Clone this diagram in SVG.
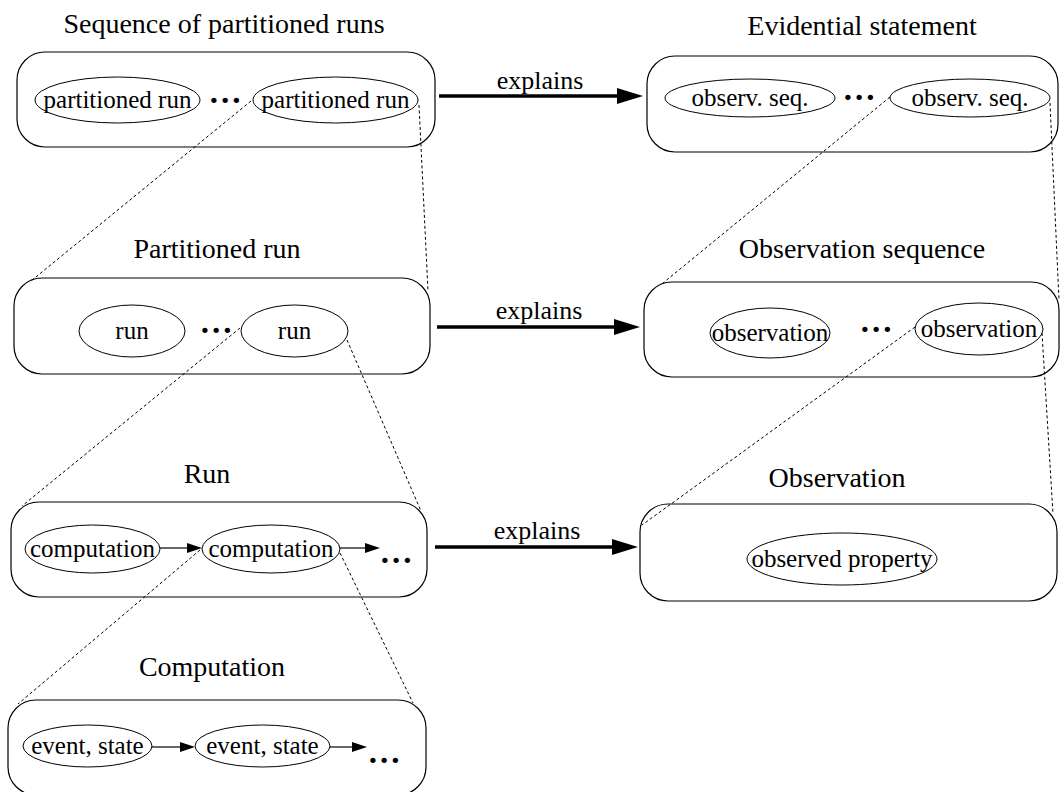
<svg xmlns="http://www.w3.org/2000/svg" width="1060" height="792" viewBox="0 0 1060 792">
<style>
  .box { fill: none; stroke: #000; stroke-width: 1.2; }
  .ell { fill: none; stroke: #000; stroke-width: 1; }
  .title { font-family: "Liberation Serif", "Times New Roman", serif; font-size: 28px; text-anchor: middle; fill: #000; }
  .lbl { font-family: "Liberation Serif", "Times New Roman", serif; font-size: 25px; text-anchor: middle; fill: #000; }
  .dots { font-family: "Liberation Serif", "Times New Roman", serif; font-size: 45px; text-anchor: middle; fill: #000; }
  .exp { font-family: "Liberation Serif", "Times New Roman", serif; font-size: 26px; text-anchor: middle; fill: #000; }
  .zoom { fill: none; stroke: #000; stroke-width: 1; stroke-dasharray: 3 2.5; }
  .big { fill: none; stroke: #000; stroke-width: 3.3; }
  .small { fill: none; stroke: #000; stroke-width: 1.2; }
</style>
<defs>
  <marker id="bigHead" markerUnits="userSpaceOnUse" markerWidth="26" markerHeight="16" refX="0" refY="8" orient="auto">
    <path d="M0,0 L26,8 L0,16 z" fill="#000"/>
  </marker>
  <marker id="smallHead" markerUnits="userSpaceOnUse" markerWidth="15" markerHeight="10" refX="0" refY="5" orient="auto">
    <path d="M0,0 L15,5 L0,10 z" fill="#000"/>
  </marker>
</defs>

<g id="seq-runs">
  <text class="title" x="224" y="33">Sequence of partitioned runs</text>
  <rect class="box" x="17" y="52" width="418" height="95" rx="28" ry="28"/>
  <ellipse class="ell" cx="117.5" cy="100" rx="82.5" ry="23"/>
  <text class="lbl" x="117.5" y="108">partitioned run</text>
  <text class="dots" x="225" y="102.5">...</text>
  <ellipse class="ell" cx="335.5" cy="100" rx="82.5" ry="23"/>
  <text class="lbl" x="335.5" y="108">partitioned run</text>
</g>

<g id="evidential">
  <text class="title" x="862" y="35">Evidential statement</text>
  <rect class="box" x="647" y="56" width="411" height="96" rx="28" ry="28"/>
  <ellipse class="ell" cx="750" cy="98" rx="85" ry="19"/>
  <text class="lbl" x="750" y="106">observ. seq.</text>
  <text class="dots" x="859" y="99.5">...</text>
  <ellipse class="ell" cx="970" cy="98" rx="80" ry="19"/>
  <text class="lbl" x="970" y="106">observ. seq.</text>
</g>

<g id="part-run">
  <text class="title" x="217" y="258">Partitioned run</text>
  <rect class="box" x="14" y="278" width="416" height="96" rx="28" ry="28"/>
  <ellipse class="ell" cx="132" cy="331" rx="53" ry="26"/>
  <text class="lbl" x="132" y="339">run</text>
  <text class="dots" x="216" y="332.5">...</text>
  <ellipse class="ell" cx="294.5" cy="331" rx="53.5" ry="26"/>
  <text class="lbl" x="294.5" y="339">run</text>
</g>

<g id="obs-seq">
  <text class="title" x="862" y="258">Observation sequence</text>
  <rect class="box" x="644" y="282" width="415" height="95" rx="28" ry="28"/>
  <ellipse class="ell" cx="770" cy="333" rx="60" ry="25"/>
  <text class="lbl" x="770" y="341">observation</text>
  <text class="dots" x="876" y="331.5">...</text>
  <ellipse class="ell" cx="979" cy="329" rx="64" ry="26"/>
  <text class="lbl" x="979" y="337">observation</text>
</g>

<g id="run">
  <text class="title" x="207" y="483">Run</text>
  <rect class="box" x="11" y="502" width="416" height="95" rx="28" ry="28"/>
  <ellipse class="ell" cx="92.5" cy="549" rx="67.5" ry="24"/>
  <text class="lbl" x="92.5" y="557">computation</text>
  <ellipse class="ell" cx="271" cy="549" rx="69" ry="24"/>
  <text class="lbl" x="271" y="557">computation</text>
  <text class="dots" x="396" y="562.5">...</text>
</g>

<g id="observation">
  <text class="title" x="837" y="487">Observation</text>
  <rect class="box" x="640" y="504" width="417" height="97" rx="28" ry="28"/>
  <ellipse class="ell" cx="842" cy="559" rx="95" ry="26"/>
  <text class="lbl" x="842" y="567">observed property</text>
</g>

<g id="computation">
  <text class="title" x="212" y="676">Computation</text>
  <rect class="box" x="8" y="700" width="418" height="95" rx="28" ry="28"/>
  <ellipse class="ell" cx="87.5" cy="746" rx="64.5" ry="21"/>
  <text class="lbl" x="87.5" y="754">event, state</text>
  <ellipse class="ell" cx="262.5" cy="746" rx="67.5" ry="21"/>
  <text class="lbl" x="262.5" y="754">event, state</text>
  <text class="dots" x="384" y="762.5">...</text>
</g>

<g id="connectors">
  <!-- explains arrows -->
  <line class="big" x1="439" y1="96" x2="617" y2="96" marker-end="url(#bigHead)"/>
  <text class="exp" x="540" y="89">explains</text>
  <line class="big" x1="437" y1="327" x2="614" y2="327" marker-end="url(#bigHead)"/>
  <text class="exp" x="539" y="319">explains</text>
  <line class="big" x1="435" y1="547" x2="612" y2="547" marker-end="url(#bigHead)"/>
  <text class="exp" x="537" y="539">explains</text>

  <!-- sequence arrows -->
  <line class="small" x1="160" y1="548" x2="187" y2="548" marker-end="url(#smallHead)"/>
  <line class="small" x1="340" y1="548" x2="365" y2="548" marker-end="url(#smallHead)"/>
  <line class="small" x1="152" y1="747" x2="180" y2="747" marker-end="url(#smallHead)"/>
  <line class="small" x1="330" y1="747" x2="352" y2="747" marker-end="url(#smallHead)"/>

  <!-- zoom (dotted) lines -->
  <line class="zoom" x1="251" y1="101" x2="31" y2="281"/>
  <line class="zoom" x1="419" y1="105" x2="428" y2="291"/>
  <line class="zoom" x1="240" y1="328" x2="22" y2="506"/>
  <line class="zoom" x1="347" y1="340" x2="421" y2="511"/>
  <line class="zoom" x1="200" y1="550" x2="18" y2="704"/>
  <line class="zoom" x1="340" y1="553" x2="413" y2="703"/>
  <line class="zoom" x1="890" y1="97" x2="663" y2="283"/>
  <line class="zoom" x1="1050" y1="103" x2="1059" y2="300"/>
  <line class="zoom" x1="915" y1="327" x2="642" y2="525"/>
  <line class="zoom" x1="1042" y1="333" x2="1053" y2="514"/>
</g>
</svg>
